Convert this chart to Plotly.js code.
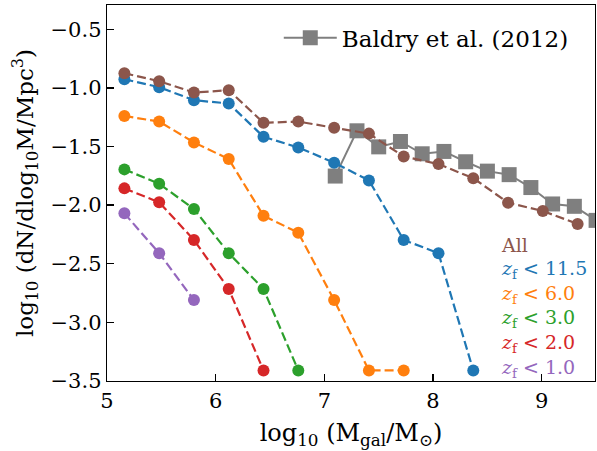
<!DOCTYPE html>
<html>
<head>
<meta charset="utf-8">
<script src="https://cdn.plot.ly/plotly-3.0.1.min.js"></script>
<style>html,body{margin:0;padding:0;background:#fff;}#chart{width:597px;height:451px;}</style>
</head>
<body>
<div id="chart"></div>
<script>
// Mass bins (log10 Mgal)
const massBins = [5.16, 5.48, 5.80, 6.12, 6.44, 6.76, 7.09, 7.41, 7.73, 8.05, 8.37, 8.69, 9.01, 9.33];
// Series values: log10 number density
const allVals   = [-0.875, -0.943, -1.04, -1.02, -1.298, -1.287, -1.34, -1.39, -1.585, -1.65, -1.77, -1.98, -2.05, -2.16];
const zf115Vals = [-0.926, -0.994, -1.105, -1.133, -1.417, -1.508, -1.638, -1.789, -2.297, -2.41, -3.41];
const zf60Vals  = [-1.24, -1.287, -1.465, -1.607, -2.09, -2.235, -2.81, -3.41, -3.41];
const zf30Vals  = [-1.695, -1.818, -2.033, -2.41, -2.715, -3.41];
const zf20Vals  = [-1.857, -1.976, -2.297, -2.715, -3.41];
const zf10Vals  = [-2.07, -2.41, -2.81];
// Baldry et al. (2012)
const baldryX = [7.1, 7.3, 7.5, 7.7, 7.9, 8.1, 8.3, 8.5, 8.7, 8.9, 9.1, 9.3, 9.5];
const baldryY = [-1.752, -1.366, -1.503, -1.457, -1.562, -1.542, -1.63, -1.71, -1.74, -1.85, -1.99, -2.01, -2.13];
// Labels
const seriesLabels = ['All', '<i>z</i><sub>f</sub> < 11.5', '<i>z</i><sub>f</sub> < 6.0', '<i>z</i><sub>f</sub> < 3.0', '<i>z</i><sub>f</sub> < 2.0', '<i>z</i><sub>f</sub> < 1.0'];
const baldryLabel = 'Baldry et al. (2012)';
const xTickVals = [5, 6, 7, 8, 9];
const yTickVals = [-3.5, -3.0, -2.5, -2.0, -1.5, -1.0, -0.5];

const colors = ['#8c564b', '#1f77b4', '#ff7f0e', '#2ca02c', '#d62728', '#9467bd'];
const seriesVals = [allVals, zf115Vals, zf60Vals, zf30Vals, zf20Vals, zf10Vals];
const FONT = 'DejaVu Serif';

const traces = [{
  x: baldryX, y: baldryY, name: baldryLabel, type: 'scatter', mode: 'lines+markers',
  line: {color: '#7f7f7f', width: 2},
  marker: {symbol: 'square', size: 15, color: '#7f7f7f'},
  showlegend: true
}];
// draw order: purple, red, green, orange, blue, brown
for (let i = seriesVals.length - 1; i >= 0; i--) {
  const v = seriesVals[i];
  traces.push({
    x: massBins.slice(0, v.length), y: v, name: seriesLabels[i], type: 'scatter', mode: 'lines+markers',
    line: {color: colors[i], width: 2.2, dash: '9px,4px'},
    marker: {symbol: 'circle', size: 12, color: colors[i]},
    showlegend: false
  });
}

const annotations = seriesLabels.map((t, i) => ({
  text: t, xref: 'paper', yref: 'paper', x: 0.803, y: 0.362 - i * 0.0657,
  xanchor: 'left', yanchor: 'middle', showarrow: false,
  font: {family: FONT, size: 19, color: colors[i]}
}));

const layout = {
  width: 597, height: 451,
  margin: {l: 107, r: 2, t: 5, b: 70},
  paper_bgcolor: '#fff', plot_bgcolor: '#fff',
  font: {family: FONT, size: 21, color: '#000'},
  showlegend: true,
  legend: {x: 0.352, y: 0.97, xanchor: 'left', yanchor: 'top', bgcolor: 'rgba(0,0,0,0)',
           font: {family: FONT, size: 23, color: '#000'}, itemwidth: 53},
  xaxis: {
    range: [5, 9.49], tickvals: xTickVals, ticktext: xTickVals.map(String),
    ticks: 'inside', ticklen: 7, tickwidth: 1.3, tickcolor: '#000',
    showline: true, linecolor: '#000', linewidth: 1.3, mirror: true,
    showgrid: false, zeroline: false,
    tickfont: {family: FONT, size: 21},
    title: {text: 'log<sub>10</sub> (M<sub>gal</sub>/M<sub>⊙</sub>)', font: {family: FONT, size: 24}, standoff: 12}
  },
  yaxis: {
    range: [-3.5, -0.293], tickvals: yTickVals, tickformat: '.1f',
    ticks: 'inside', ticklen: 7, tickwidth: 1.3, tickcolor: '#000',
    showline: true, linecolor: '#000', linewidth: 1.3, mirror: true,
    showgrid: false, zeroline: false,
    tickfont: {family: FONT, size: 21},
    title: {text: 'log<sub>10</sub> (dN/dlog<sub>10</sub>M/Mpc<sup>3</sup>)', font: {family: FONT, size: 23}, standoff: 10}
  },
  annotations: annotations
};

Plotly.newPlot('chart', traces, layout, {staticPlot: true, displayModeBar: false});
</script>
</body>
</html>
